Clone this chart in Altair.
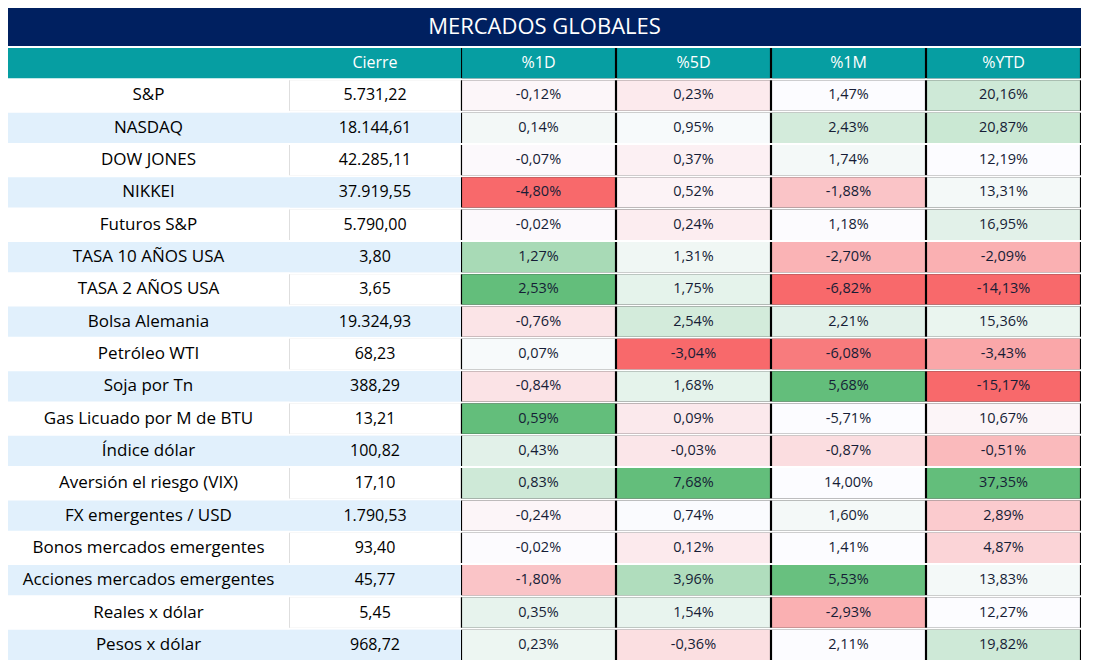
import altair as alt
import pandas as pd

TITLE = "MERCADOS GLOBALES"
HEAD_CIERRE = "Cierre"
PCT_COLS = ["%1D", "%5D", "%1M", "%YTD"]

names = ["S&P", "NASDAQ", "DOW JONES", "NIKKEI", "Futuros S&P", "TASA 10 AÑOS USA",
         "TASA 2 AÑOS USA", "Bolsa Alemania", "Petróleo WTI", "Soja por Tn",
         "Gas Licuado por M de BTU", "Índice dólar", "Aversión el riesgo (VIX)",
         "FX emergentes / USD", "Bonos mercados emergentes",
         "Acciones mercados emergentes", "Reales x dólar", "Pesos x dólar"]
cierre = [5731.22, 18144.61, 42285.11, 37919.55, 5790.00, 3.80, 3.65, 19324.93, 68.23,
          388.29, 13.21, 100.82, 17.10, 1790.53, 93.40, 45.77, 5.45, 968.72]
p1d = [-0.12, 0.14, -0.07, -4.80, -0.02, 1.27, 2.53, -0.76, 0.07, -0.84, 0.59, 0.43,
       0.83, -0.24, -0.02, -1.80, 0.35, 0.23]
p5d = [0.23, 0.95, 0.37, 0.52, 0.24, 1.31, 1.75, 2.54, -3.04, 1.68, 0.09, -0.03,
       7.68, 0.74, 0.12, 3.96, 1.54, -0.36]
p1m = [1.47, 2.43, 1.74, -1.88, 1.18, -2.70, -6.82, 2.21, -6.08, 5.68, -5.71, -0.87,
       14.00, 1.60, 1.41, 5.53, -2.93, 2.11]
pytd = [20.16, 20.87, 12.19, 13.31, 16.95, -2.09, -14.13, 15.36, -3.43, -15.17, 10.67,
        -0.51, 37.35, 2.89, 4.87, 13.83, 12.27, 19.82]

# cell shading (-1 = full red, 0 = white, 1 = full green)
s1d = [-0.04, 0.06, -0.02, -1.0, -0.02, 0.55, 1.0, -0.16, 0.03, -0.17, 1.0, 0.17,
       0.3, -0.05, -0.01, -0.38, 0.14, 0.1]
s5d = [-0.12, 0.03, -0.08, -0.06, -0.1, 0.08, 0.15, 0.27, -1.0, 0.15, -0.13, -0.15,
       1.0, 0.01, -0.12, 0.5, 0.13, -0.2]
s1m = [0.0, 0.27, 0.05, -0.38, -0.01, -0.5, -1.0, 0.17, -0.88, 1.0, 0.0, -0.21,
       0.0, 0.05, 0.0, 0.97, -0.52, 0.0]
sytd = [0.3, 0.33, 0.0, 0.05, 0.17, -0.52, -1.0, 0.12, -0.58, -1.0, -0.05, -0.45,
        1.0, -0.33, -0.27, 0.05, 0.0, 0.3]

NAVY = "#002060"
TEAL = "#069ea2"
BLUE = "#e1f0fc"
TXT_PCT = "#161d36"
FONT = "Open Sans"

HDR = "__header__"
order = [HDR] + names


def fmt_num(v):
    s = f"{v:,.2f}"
    return s.replace(",", "X").replace(".", ",").replace("X", ".")


def fmt_pct(v):
    return f"{v:.2f}".replace(".", ",") + "%"


rows_df = pd.DataFrame({
    "key": names,
    "name": names,
    "cierre": [fmt_num(v) for v in cierre],
    "band": ["#ffffff" if i % 2 == 0 else BLUE for i in range(len(names))],
    "edge": ["#d9d9d9" if i % 2 == 0 else BLUE for i in range(len(names))],
    "c": "a",
})
hdr_df = pd.DataFrame({"key": [HDR], "label": [HEAD_CIERRE], "c": ["a"]})

long_rows = []
for col, vals, shades in zip(PCT_COLS, [p1d, p5d, p1m, pytd], [s1d, s5d, s1m, sytd]):
    for n, v, s in zip(names, vals, shades):
        long_rows.append({"key": n, "col": col, "txt": fmt_pct(v), "shade": s})
pct_df = pd.DataFrame(long_rows)
pct_hdr = pd.DataFrame({"key": [HDR] * 4, "col": PCT_COLS})

TABLE_H = 612
yscale = alt.Scale(domain=order, paddingInner=0.06, paddingOuter=0)
Y = alt.Y("key:N", scale=yscale, axis=None)
XC = alt.X("c:N", axis=None, scale=alt.Scale(paddingInner=0, paddingOuter=0))
XP = alt.X("col:N", axis=None, sort=PCT_COLS,
           scale=alt.Scale(domain=PCT_COLS, paddingInner=0, paddingOuter=0))

# --- name column
name_hdr = alt.Chart(hdr_df).mark_rect(color=TEAL).encode(x=XC, y=Y)
name_bg = alt.Chart(rows_df).mark_rect().encode(x=XC, y=Y, fill=alt.Fill("band:N", scale=None))
name_txt = alt.Chart(rows_df).mark_text(font=FONT, fontSize=17, color="#000000").encode(
    x=XC, y=Y, text="name:N")
name_panel = alt.layer(name_hdr, name_bg, name_txt).properties(width=281, height=TABLE_H)

# --- cierre column
c_hdr = alt.Chart(hdr_df).mark_rect(color=TEAL).encode(x=XC, y=Y)
c_hdr_txt = alt.Chart(hdr_df).mark_text(font=FONT, fontSize=16, color="#ffffff").encode(
    x=XC, y=Y, text="label:N")
c_edge = alt.Chart(rows_df).mark_rect().encode(x=XC, y=Y, fill=alt.Fill("edge:N", scale=None))
c_bg = alt.Chart(rows_df).mark_rect(width=alt.RelativeBandSize(band=0.99)).encode(
    x=XC, y=Y, fill=alt.Fill("band:N", scale=None))
c_txt = alt.Chart(rows_df).mark_text(font=FONT, fontSize=16,
                                     color="#000000").encode(x=XC, y=Y, text="cierre:N")
cierre_panel = alt.layer(c_hdr, c_hdr_txt, c_edge, c_bg, c_txt).properties(width=172, height=TABLE_H)

# --- percentage columns
p_under = alt.Chart(pct_df).mark_rect(color="#000000").encode(x=XP, y=Y)
p_cell = alt.Chart(pct_df).mark_rect(width=alt.RelativeBandSize(band=0.986)).encode(
    x=XP, y=Y,
    color=alt.Color("shade:Q", legend=None,
                    scale=alt.Scale(domain=[-1, 0, 1],
                                    range=["#f8696b", "#fcfcff", "#63be7b"],
                                    interpolate="rgb")))
p_txt = alt.Chart(pct_df).mark_text(font=FONT, fontSize=14.5, color=TXT_PCT).encode(
    x=XP, y=Y, text="txt:N")
h_under = alt.Chart(pct_hdr).mark_rect(color="#000000").encode(x=XP, y=Y)
h_cell = alt.Chart(pct_hdr).mark_rect(color=TEAL, width=alt.RelativeBandSize(band=0.986)).encode(
    x=XP, y=Y)
h_txt = alt.Chart(pct_hdr).mark_text(font=FONT, fontSize=16, color="#ffffff").encode(
    x=XP, y=Y, text="col:N")
pct_panel = alt.layer(p_under, p_cell, p_txt, h_under, h_cell, h_txt).properties(
    width=620, height=TABLE_H)

# --- title bar
title_df = pd.DataFrame({"c": ["a"], "r": ["a"], "t": [TITLE]})
TX = alt.X("c:N", axis=None, scale=alt.Scale(paddingInner=0, paddingOuter=0))
TY = alt.Y("r:N", axis=None, scale=alt.Scale(paddingInner=0, paddingOuter=0))
t_bg = alt.Chart(title_df).mark_rect(color=NAVY).encode(x=TX, y=TY)
t_txt = alt.Chart(title_df).mark_text(font=FONT, fontSize=22, color="#ffffff").encode(
    x=TX, y=TY, text="t:N")
title_panel = alt.layer(t_bg, t_txt).properties(width=1073, height=38)

chart = alt.vconcat(
    title_panel,
    alt.hconcat(name_panel, cierre_panel, pct_panel, spacing=0),
    spacing=2,
).properties(padding=0, background="#ffffff").configure_view(stroke=None)

chart.save("out.html", embed_options={"renderer": "svg", "actions": False})
